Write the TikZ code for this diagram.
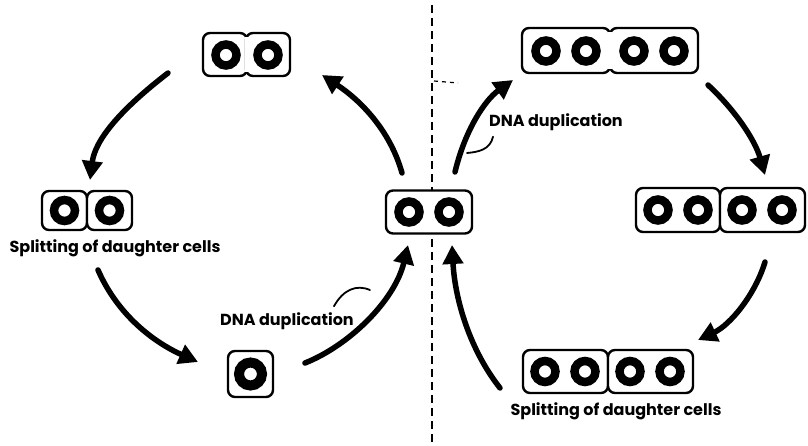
\documentclass[tikz,border=0pt]{standalone}
\usepackage{fontspec}
\newfontfamily\labelfont{Poppins}
\usetikzlibrary{arrows.meta}
\tikzset{
      cell/.style={draw=black, fill=white, line width=2.4, rounded corners=7, inner sep=0},
      nucleus/.style={circle, draw=black, line width=8.5, minimum size=21, inner sep=0},
      growth/.style={draw=black, line width=5.5, line cap=round, -{Triangle[length=19, width=20]}},
      pointer/.style={draw=black, line width=1.8, line cap=round},
      divide/.style={draw=black, line width=1.8, dash pattern=on 8 off 5},
      lbl/.style={font=\labelfont\bfseries\fontsize{16}{18}\selectfont, inner sep=0},
}
\begin{document}
\begin{tikzpicture}[x=1pt, y=-1pt]
        \useasboundingbox (0,0) rectangle (808,446);

        \draw[divide] (432,5) -- (432,446);
        \draw[divide, line width=1.2, dash pattern=on 4 off 4] (434,81) -- (458,83);

        % one cell, one nucleus
        \node[cell, minimum width=45, minimum height=46] (one) at (250.5,374) {};
        \node[nucleus, line width=10, minimum size=23] (onen) at (250.5,374) {};

        % after duplication
        \node[cell, minimum width=86, minimum height=43] (two) at (429,212) {};
        \node[nucleus] (twoa) at (409,212) {};
        \node[nucleus] (twob) at (449,212) {};

        % left loop: elongating and splitting
        \node[cell, minimum width=44, minimum height=43] (longa) at (225,54.5) {};
        \node[cell, minimum width=44, minimum height=43] (longb) at (268,54.5) {};
        \fill[white] (244.5,37) rectangle (248.5,72);
        \node[nucleus] (longan) at (226,55) {};
        \node[nucleus] (longbn) at (268,55) {};

        \node[cell, minimum width=45, minimum height=39] (splita) at (64.5,210.5) {};
        \node[cell, minimum width=45, minimum height=39] (splitb) at (109.5,210.5) {};
        \node[nucleus] (splitan) at (64.5,210.5) {};
        \node[nucleus] (splitbn) at (109.5,210.5) {};
        \node[lbl] (splitl) at (115,248) {Splitting of daughter cells};

        % right loop: four nuclei
        \node[cell, minimum width=88, minimum height=45] (quada) at (566,50.5) {};
        \node[cell, minimum width=88, minimum height=45] (quadb) at (654,50.5) {};
        \fill[white] (608,32) rectangle (612,69);
        \foreach \x/\n in {546/1,586/2,634/3,674/4}
            \node[nucleus] (quadn\n) at (\x,51) {};

        \node[cell, minimum width=84, minimum height=44] (fulla) at (678,210) {};
        \node[cell, minimum width=85, minimum height=44] (fullb) at (762.5,210) {};
        \foreach \x/\n in {658/1,698/2,742/3,782/4}
            \node[nucleus] (fulln\n) at (\x,210) {};

        \node[cell, minimum width=85, minimum height=43] (sepa) at (565.5,371.5) {};
        \node[cell, minimum width=85, minimum height=43] (sepb) at (650.5,371.5) {};
        \foreach \x/\n in {545/1,585/2,630/3,670/4}
            \node[nucleus] (sepn\n) at (\x,371.5) {};
        \node[lbl] (splitr) at (616,411) {Splitting of daughter cells};

        \node[lbl] (dnal) at (287,321) {DNA duplication};
        \node[lbl] (dnar) at (556,122) {DNA duplication};

        % arrow ends
        \coordinate (a1) at (168,73);   \coordinate (a2) at (90,180);
        \coordinate (b1) at (98,270);   \coordinate (b2) at (198,362);
        \coordinate (c1) at (305,363);  \coordinate (c2) at (408,245);
        \coordinate (d1) at (402,173);  \coordinate (d2) at (322,75);
        \coordinate (e1) at (455,172);  \coordinate (e2) at (513,80);
        \coordinate (f1) at (708,85);   \coordinate (f2) at (765,175);
        \coordinate (g1) at (765,262);  \coordinate (g2) at (698,340);
        \coordinate (h1) at (500,388);  \coordinate (h2) at (452,245);

        \draw[growth] (a1) .. controls (120,110) and (95,140) .. (a2);
        \draw[growth] (b1) .. controls (120,320) and (160,345) .. (b2);
        \draw[growth] (c1) .. controls (350,345) and (395,300) .. (c2);
        \draw[growth] (d1) .. controls (390,130) and (360,100) .. (d2);
        \draw[growth] (e1) .. controls (465,130) and (485,100) .. (e2);
        \draw[growth] (f1) .. controls (735,110) and (755,140) .. (f2);
        \draw[growth] (g1) .. controls (755,295) and (730,325) .. (g2);
        \draw[growth] (h1) .. controls (470,350) and (455,300) .. (h2);

        \coordinate (pl) at (370,290);
        \draw[pointer] (dnal.north east) ++(-20,-6) .. controls (343,290) and (356,284) .. (pl);
        \coordinate (pr) at (467,153);
        \draw[pointer] (dnar.south west) ++(4,6) .. controls (490,150) and (478,152) .. (pr);

    \end{tikzpicture}
\end{document}
